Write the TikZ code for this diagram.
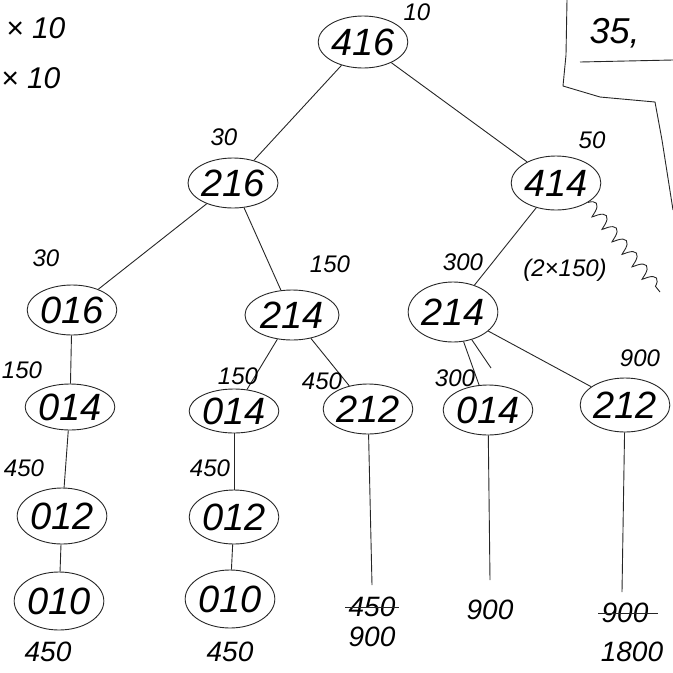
\documentclass[tikz,border=0pt]{standalone}
\usepackage{fontspec}
\setmainfont{Liberation Sans}
\usetikzlibrary{shapes.geometric,decorations.pathmorphing}

\tikzset{
  tnode/.style={ellipse,draw=black!85,line width=.9pt,inner sep=0pt,font=\fontsize{38}{42}\selectfont\itshape},
  wlab/.style={font=\fontsize{24}{28}\selectfont\itshape},
  leafnum/.style={font=\fontsize{28}{32}\selectfont\itshape},
  edge/.style={draw=black!85,line width=.9pt},
}

\begin{document}
\begin{tikzpicture}[x=1pt,y=-1pt]
\useasboundingbox (0,0) rectangle (673,673);
% tree nodes
\foreach\n/\x/\y/\w/\h/\t in{
  r/363/42/72/52/416,
  a/233/183/90/50/216,
  b/556/183/86/54/414,
  c/72/310/66/50/016,
  d/292/315/94/50/214,
  e/453/312/76/60/214,
  f/70/407/66/46/014,
  g/234/411/72/44/014,
  h/368/409/80/50/212,
  i/488/410/88/50/014,
  j/625/405/80/54/212,
  k/62/516/84/56/012,
  l/234/517/86/54/012,
  m/59/601/88/58/010,
  n/230/599/78/58/010}
  \node[tnode,minimum width=\w pt,minimum height=\h pt](\n)at(\x,\y){\t};
% leaves
\coordinate(hl)at(372,585);
\coordinate(il)at(490,580);
\coordinate(jl)at(622,592);
\coordinate(ix)at(491,368);
\foreach\p/\q in{r/a,r/b,a/c,a/d,b/e,c/f,f/k,k/m,d/g,d/h,g/l,l/n,e/i,e/j,h/hl,i/il,j/jl,e/ix}
  \draw[edge](\p)--(\q);
% weights
\path
  (417,12)node[wlab]{10}
  (224,137)node[wlab]{30}
  (592,140)node[wlab]{50}
  (46,258)node[wlab]{30}
  (330,264)node[wlab]{150}
  (463,262)node[wlab]{300}
  (565,270)node[wlab]{(2×150)}
  (22,370)node[wlab]{150}
  (238,376)node[wlab]{150}
  (322,381)node[wlab]{450}
  (455,378)node[wlab]{300}
  (640,358)node[wlab]{900}
  (24,468)node[wlab]{450}
  (210,468)node[wlab]{450};
% totals
\node[leafnum](t1)at(48,652){450};
\node[leafnum](t2)at(230,652){450};
\node[leafnum](t3)at(372,607){450};
\node[leafnum](t4)at(372,637){900};
\node[leafnum](t5)at(490,610){900};
\node[leafnum](t6)at(625,613){900};
\node[leafnum](t7)at(632,652){1800};
\draw[edge](t3.west)--(t3.east);
\draw[edge](t6.west)--([xshift=6pt]t6.east);
% wavy off-cut
\draw[edge,decorate,decoration={coil,aspect=.3,amplitude=6pt,segment length=16pt}](b.south east)--(660,292);
% margin notes
\node[anchor=west,inner sep=0pt,font=\fontsize{30}{34}\selectfont\itshape](m1)at(6,28){× 10};
\node[anchor=west,inner sep=0pt,font=\fontsize{30}{34}\selectfont\itshape](m2)at(1,78){× 10};
\node[font=\fontsize{36}{40}\selectfont\itshape,anchor=west](m3)at(586,33){35,};
\draw[edge](580,62)--(673,60);
\draw[edge](567,0)--(566,55)--(563,86)--(600,97)--(655,102)--(662,140)--(673,210);
\end{tikzpicture}
\end{document}
